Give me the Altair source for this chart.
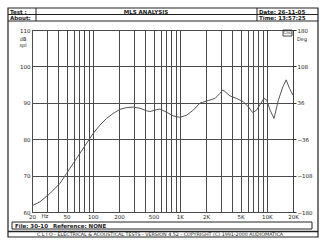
import altair as alt
import pandas as pd

# ---- data ----
freq = [20, 24.7, 32.2, 42, 50, 59.7, 71, 85, 101, 121, 144, 172, 205, 245, 292, 348, 416, 454,
        518, 592, 706, 842, 1000, 1200, 1430, 1700, 2120, 2540, 2900, 3110, 3300, 3770, 4500,
        5360, 6140, 6880, 7630, 8300, 9280, 9960, 10900, 12100, 13600, 15300, 16700, 18200, 20000]
spl = [61.7, 62.8, 65.1, 67.9, 70.6, 73.4, 76.1, 78.9, 81.6, 83.9, 85.7, 87.1, 88.2, 88.7, 88.8,
       88.5, 87.8, 87.6, 88.0, 88.3, 87.4, 86.4, 86.0, 86.6, 88.0, 89.9, 90.6, 91.2, 92.6, 93.5,
       93.1, 91.9, 91.2, 90.3, 88.9, 87.3, 88.0, 89.4, 91.2, 90.8, 88.0, 85.7, 90.8, 94.4, 96.3,
       94.0, 92.1]

grid_freqs = [20, 30, 40, 50, 60, 70, 80, 90, 100, 200, 300, 400, 500, 600, 700, 800, 900,
              1000, 2000, 3000, 4000, 5000, 6000, 7000, 8000, 9000, 10000, 20000]
freq_label_values = [20, 50, 100, 200, 500, 1000, 2000, 5000, 10000, 20000]
freq_label_texts = ["20", "50", "100", "200", "500", "1K", "2K", "5K", "10K", "20K"]
db_ticks = [60, 70, 80, 90, 100, 110]
deg_ticks = [-180, -108, -36, 36, 108, 180]

header_left = ["Test :", "About:"]
header_title = "MLS ANALYSIS"
header_right = ["Date: 26-11-05", "Time: 13:57:25"]
file_text = "File: 30-10"
ref_text = "Reference: NONE"
footer_text = "C L I O  -  ELECTRICAL & ACOUSTICAL TESTS  -  VERSION 4.52  -  COPYRIGHT (C) 1991-2000 AUDIOMATICA"

FONT = "DejaVu Sans"
OX, OY = 32, 30  # plot origin in page pixels
W, H = 261, 182
GRID = "#4a4a4a"

df = pd.DataFrame({"freq": freq, "spl": spl})
lab_map = "{" + ",".join(f"'{v}':'{t}'" for v, t in zip(freq_label_values, freq_label_texts)) + "}"

curve = alt.Chart(df).mark_line(color="#555555", strokeWidth=1, clip=True).encode(
    x=alt.X("freq:Q", scale=alt.Scale(type="log", domain=[20, 20000], nice=False),
            axis=alt.Axis(values=grid_freqs, grid=True, gridColor=GRID, gridOpacity=1,
                          gridWidth=1, ticks=False, domain=False, title=None,
                          labelExpr=f"({lab_map})[''+datum.value] || ''",
                          labelFont=FONT, labelFontSize=5.5, labelPadding=2,
                          labelColor="#222222", labelFlush=False, labelOverlap=False)),
    y=alt.Y("spl:Q", scale=alt.Scale(domain=[60, 110], nice=False),
            axis=alt.Axis(values=db_ticks, grid=True, gridColor=GRID, gridOpacity=1,
                          gridWidth=1, ticks=False, domain=False, title=None,
                          labelFont=FONT, labelFontSize=5.5, labelPadding=2,
                          labelColor="#222222", labelFlush=False)),
)

deg_df = pd.DataFrame({"deg": deg_ticks})
right_axis = alt.Chart(deg_df).mark_point(opacity=0).encode(
    y=alt.Y("deg:Q", scale=alt.Scale(domain=[-180, 180], nice=False),
            axis=alt.Axis(orient="right", values=deg_ticks, grid=False, ticks=True, tickSize=3,
                          tickColor="#333333", domain=True, domainColor="#333333",
                          domainDash=[1, 1], title=None, labelFont=FONT, labelFontSize=5.5,
                          labelPadding=1, labelColor="#222222", labelFlush=False)),
)

one = pd.DataFrame({"a": [0]})


def R(x1, y1, x2, y2, sw=1.0):
    return alt.Chart(one).mark_rect(fillOpacity=0, stroke="#222222", strokeWidth=sw).encode(
        x=alt.value(x1 - OX), x2=alt.value(x2 - OX), y=alt.value(y1 - OY), y2=alt.value(y2 - OY))


def L(x1, y1, x2, y2, sw=1.0):
    return alt.Chart(one).mark_rule(color="#222222", strokeWidth=sw).encode(
        x=alt.value(x1 - OX), x2=alt.value(x2 - OX), y=alt.value(y1 - OY), y2=alt.value(y2 - OY))


def T(txt, x, y, align="left", size=5.5, weight="normal"):
    return alt.Chart(one).mark_text(text=txt, align=align, baseline="middle", font=FONT,
                                    fontSize=size, fontWeight=weight, color="#222222").encode(
        x=alt.value(x - OX), y=alt.value(y - OY))


decor = [
    R(8, 8, 318, 237, 1.2),
    L(8, 14.5, 318, 14.5),
    L(8, 21, 318, 21),
    L(36, 8, 36, 21),
    L(257, 8, 257, 21),
    R(12, 222, 312, 229),
    L(8, 231.5, 318, 231.5, 1.5),
    R(283, 30, 292, 36, 0.8),
    T(header_left[0], 10, 11.5, weight="bold"),
    T(header_left[1], 10, 18, weight="bold"),
    T(header_title, 146, 11.5, align="center", weight="bold"),
    T(header_right[0], 259, 11.5, weight="bold"),
    T(header_right[1], 259, 18, weight="bold"),
    T("dB", 23, 39, align="center", size=5),
    T("spl", 23, 44.5, align="center", size=5),
    T("Hz", 45, 216, align="center"),
    T("Deg", 297, 39, size=5),
    T("Clio", 287.5, 33, align="center", size=4.5),
    T(file_text, 15, 225.5, weight="bold"),
    T(ref_text, 53, 225.5, weight="bold"),
    T(footer_text, 160, 234.5, align="center", size=4.8),
]

chart = alt.layer(curve, right_axis, *decor).resolve_scale(y="independent").properties(
    width=W, height=H,
    autosize=alt.AutoSizeParams(type="none"),
    padding={"left": OX, "top": OY, "right": 325 - OX - W, "bottom": 250 - OY - H},
    background="white",
).configure_view(stroke="#222222", strokeWidth=1)

chart.save("out.html", embed_options={"renderer": "svg", "actions": False})
